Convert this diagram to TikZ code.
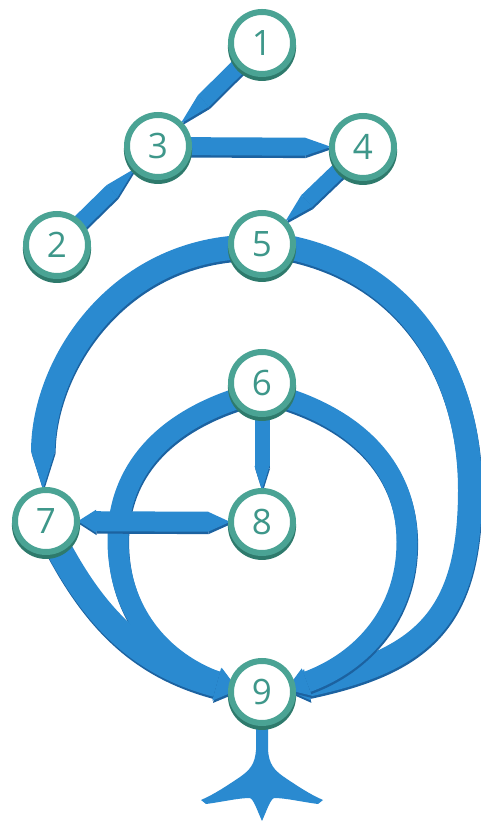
\documentclass[tikz,border=0pt]{standalone}
\usepackage{fontspec}
\setmainfont{Open Sans}
\usetikzlibrary{arrows.meta,backgrounds,shadows}
\definecolor{cblue}{HTML}{2A8AD0}
\definecolor{cbluedk}{HTML}{1C62A0}
\definecolor{cteal}{HTML}{4AA394}
\definecolor{ctealdk}{HTML}{2E7A6C}
\definecolor{ctext}{HTML}{3E978A}
\tikzset{
  vert/.style={circle, draw=cteal, line width=6pt, fill=white, minimum size=62pt,
    inner sep=0pt, font=\fontsize{35}{35}\selectfont, text=ctext,
    drop shadow={shadow xshift=0pt, shadow yshift=-3.5pt, shadow scale=1.1,
      fill=ctealdk, opacity=1}},
  wire/.style={color=cblue, line width=#1, shorten <=-6pt},
  pencil/.style 2 args={-{Triangle[length=#1, width=#2, line width=0pt]}, shorten >=-2pt},
  flare/.style={-{Triangle[length=22pt, width=#1, line width=0pt]}, shorten >=-10pt},
  shade/.style={color=cbluedk, transform canvas={shift={(0.6pt,-2.4pt)}}}
}
\newcommand\lnk[2]{\draw[#1, shade] #2; \draw[#1] #2;}
\begin{document}
\begin{tikzpicture}[x=1pt,y=1pt]
\useasboundingbox (0,0) rectangle (481,822);
% nodes
\node[vert] (n1) at (262,779) {1};
\node[vert] (n3) at (158,676) {3};
\node[vert] (n4) at (363,675) {4};
\node[vert] (n2) at (57,577) {2};
\node[vert] (n5) at (262,578) {5};
\node[vert] (n6) at (262,439) {6};
\node[vert] (n7) at (46,301) {7};
\node[vert] (n8) at (262,300) {8};
\node[vert] (n9) at (262,130) {9};
% via points
\coordinate (ra) at (470,332);
\coordinate (la) at (118,282);
\coordinate (lb) at (407,280);
\begin{scope}[on background layer]
  % root
  \fill[cblue] (256,110) -- (256,72) .. controls (255,58) and (250,52) .. (240,45)
    .. controls (228,37) and (215,28) .. (201,22) -- (206,18)
    .. controls (222,20) and (238,24) .. (250,24)
    .. controls (254,22) and (257,12) .. (262,1)
    .. controls (267,12) and (270,22) .. (274,24)
    .. controls (286,24) and (302,20) .. (318,18) -- (323,22)
    .. controls (309,28) and (296,37) .. (284,45)
    .. controls (274,52) and (269,58) .. (268,72) -- (268,110) -- cycle;
  % big arcs
  \lnk{wire=24pt, flare=32pt}{(n5.-8) to[out=-12,in=90] (ra) to[out=-90,in=12,looseness=1.25] (n9.8)}
  \lnk{wire=24pt, pencil={38pt}{24pt}}{(n5.187) to[out=185,in=90] (n7.95)}
  % inner arcs
  \lnk{wire=21pt, flare=29pt}{(n6.210) to[out=198,in=90] (la) to[out=-90,in=160] (n9.170)}
  \lnk{wire=21pt, flare=29pt}{(n6.-30) to[out=-18,in=90] (lb) to[out=-90,in=20] (n9.10)}
  \lnk{wire=26pt, flare=34pt}{(n7.-65) to[out=-62,in=165] (n9.172)}
  % straight bars
  \lnk{wire=16pt, pencil={32pt}{16pt}}{(n1) -- (n3)}
  \lnk{wire=16pt, pencil={32pt}{16pt}}{(n2) -- (n3)}
  \lnk{wire=18pt, pencil={26pt}{18pt}}{(n3) -- (n4)}
  \lnk{wire=16pt, pencil={30pt}{16pt}}{(n4) -- (n5)}
  \lnk{wire=15pt, pencil={24pt}{15pt}}{(n6) -- (n8)}
  \lnk{color=cblue, line width=20pt, shorten <=-2pt, shorten >=-2pt,
    {Triangle[length=18pt, width=23pt, line width=0pt]}-{Triangle[length=22pt, width=20pt, line width=0pt]}}{(n7) -- (n8)}
\end{scope}
\end{tikzpicture}
\end{document}
